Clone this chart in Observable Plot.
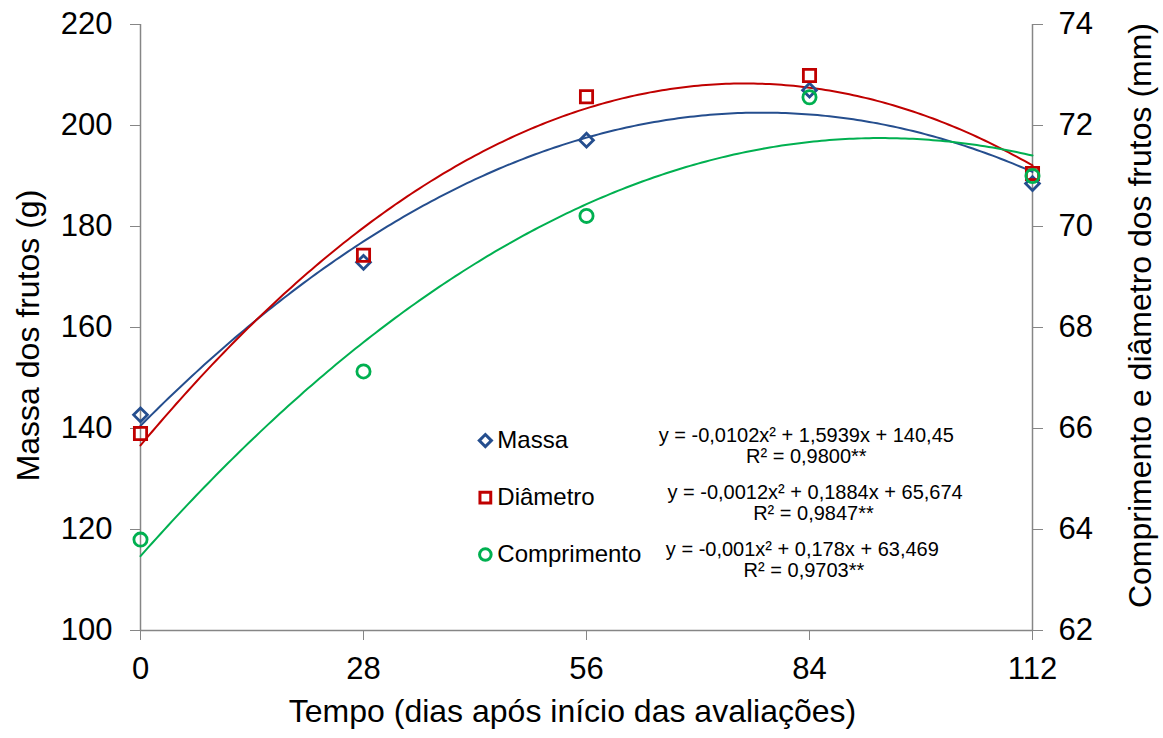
<!DOCTYPE html>
<html><head><meta charset="utf-8">
<script src="https://cdn.jsdelivr.net/npm/d3@7"></script>
<script src="https://cdn.jsdelivr.net/npm/@observablehq/plot@0.6"></script>
<style>body{margin:0;background:#fff}</style>
</head><body><div id="chart"></div>
<script>
// ---- data ----
const days = [0, 28, 56, 84, 112];
const massa = [142.7, 172.9, 197.1, 207.0, 188.5];          // g (left axis)
const diametro = [65.9, 69.43, 72.57, 72.99, 71.05];        // mm (right axis)
const comprimento = [63.8, 67.13, 70.21, 72.56, 71.0];      // mm (right axis)
const seriesNames = ["Massa", "Diâmetro", "Comprimento"];
const eqLabels = ["y = -0,0102x² + 1,5939x + 140,45", "y = -0,0012x² + 0,1884x + 65,674", "y = -0,001x² + 0,178x + 63,469"];
const r2Labels = ["R² = 0,9800**", "R² = 0,9847**", "R² = 0,9703**"];
const leftTicks = [100, 120, 140, 160, 180, 200, 220];
const xTicks = [0, 28, 56, 84, 112];

// ---- helpers ----
const toLeft = mm => 100 + (mm - 62) * 10;   // secondary axis 62..74 mapped onto 100..220
const fromLeft = v => 62 + (v - 100) / 10;
const colors = ["#254E8E", "#C00000", "#00B050"];
const symbols = ["diamond2", "square2", "circle"];
const radii = [6.2, 7.8, 6.6];

// least-squares quadratic trendline (as the spreadsheet's polynomial trendline)
function quadFit(xv, yv) {
  const S = k => d3.sum(xv, x => x ** k);
  const T = k => d3.sum(xv, (x, i) => x ** k * yv[i]);
  const M = [[S(4), S(3), S(2), T(2)], [S(3), S(2), S(1), T(1)], [S(2), S(1), xv.length, T(0)]];
  for (let c = 0; c < 3; c++) {
    for (let r = c + 1; r < 3; r++) {
      const f = M[r][c] / M[c][c];
      for (let k = c; k < 4; k++) M[r][k] -= f * M[c][k];
    }
  }
  const s = [0, 0, 0];
  for (let r = 2; r >= 0; r--) {
    let v = M[r][3];
    for (let k = r + 1; k < 3; k++) v -= M[r][k] * s[k];
    s[r] = v / M[r][r];
  }
  return x => s[0] * x * x + s[1] * x + s[2];
}
const fits = [quadFit(days, massa), quadFit(days, diametro), quadFit(days, comprimento)];
const xs = d3.range(0, 112.001, 0.5);
const curves = [
  xs.map(x => ({x, y: fits[0](x)})),
  xs.map(x => ({x, y: toLeft(fits[1](x))})),
  xs.map(x => ({x, y: toLeft(fits[2](x))}))
];
const pts = [
  days.map((d, i) => ({x: d, y: massa[i]})),
  days.map((d, i) => ({x: d, y: toLeft(diametro[i])})),
  days.map((d, i) => ({x: d, y: toLeft(comprimento[i])}))
];
const legend = seriesNames.map((name, i) => ({name, eq: eqLabels[i], r2: r2Labels[i], i}));
const legY = i => 137.6 - i * 11.28;
const eqX = [83.6, 84.7, 83.1];
const r2X = [83.6, 84.5, 83.3];

const font = "Liberation Sans, Arial, sans-serif";
const grey = "#868686";

const marks = [
  Plot.axisX({ticks: xTicks, tickSize: 10, tickPadding: 16, fontSize: 31, stroke: grey, color: "#000", label: null, tickFormat: d => String(d)}),
  Plot.axisY({anchor: "left", ticks: leftTicks, tickSize: 10, tickPadding: 18, fontSize: 31, stroke: grey, color: "#000", label: null}),
  Plot.axisY({anchor: "right", ticks: leftTicks, tickSize: 10, tickPadding: 16, fontSize: 31, stroke: grey, color: "#000", label: null, tickFormat: v => String(fromLeft(v))}),
  Plot.ruleX([0, 112], {stroke: grey, strokeWidth: 1.5}),
  Plot.ruleY([100], {stroke: grey, strokeWidth: 1.5}),
];
curves.forEach((c, i) => marks.push(Plot.line(c, {x: "x", y: "y", stroke: colors[i], strokeWidth: 2, curve: "linear"})));
pts.forEach((p, i) => marks.push(Plot.dot(p, {x: "x", y: "y", symbol: symbols[i], r: radii[i], stroke: colors[i], fill: "none", strokeWidth: 2.8})));
// legend + equations
legend.forEach((d, i) => {
  marks.push(Plot.dot([d], {x: () => 43.3, y: () => legY(i), symbol: symbols[i], r: radii[i] * 0.88, stroke: colors[i], fill: "none", strokeWidth: 3}));
  marks.push(Plot.text([d], {x: () => 44.8, y: () => legY(i), text: "name", textAnchor: "start", fontSize: 24, fill: "#000"}));
  marks.push(Plot.text([d], {x: () => eqX[i], y: () => legY(i) - 0.35, text: "eq", textAnchor: "middle", lineAnchor: "bottom", fontSize: 20, fill: "#000"}));
  marks.push(Plot.text([d], {x: () => r2X[i], y: () => legY(i) - 4.5, text: "r2", textAnchor: "middle", lineAnchor: "bottom", fontSize: 20, fill: "#000"}));
});
// axis titles
marks.push(Plot.text(["Massa dos frutos (g)"], {frameAnchor: "left", textAnchor: "middle", dx: -112, dy: 8, rotate: -90, fontSize: 32, fill: "#000", text: d => d}));
marks.push(Plot.text(["Comprimento e diâmetro dos frutos (mm)"], {frameAnchor: "right", textAnchor: "middle", dx: 108, dy: -12, rotate: -90, fontSize: 32, fill: "#000", text: d => d}));
marks.push(Plot.text(["Tempo (dias após início das avaliações)"], {frameAnchor: "bottom", textAnchor: "middle", dx: -14, dy: 91, fontSize: 32, fill: "#000", text: d => d}));

const chart = Plot.plot({
  width: 1163, height: 738,
  marginLeft: 140, marginRight: 131, marginTop: 24, marginBottom: 108,
  x: {domain: [0, 112]},
  y: {domain: [100, 220]},
  style: {fontFamily: font, background: "#fff", overflow: "visible"},
  marks
});
document.getElementById("chart").appendChild(chart);
</script>
</body></html>
